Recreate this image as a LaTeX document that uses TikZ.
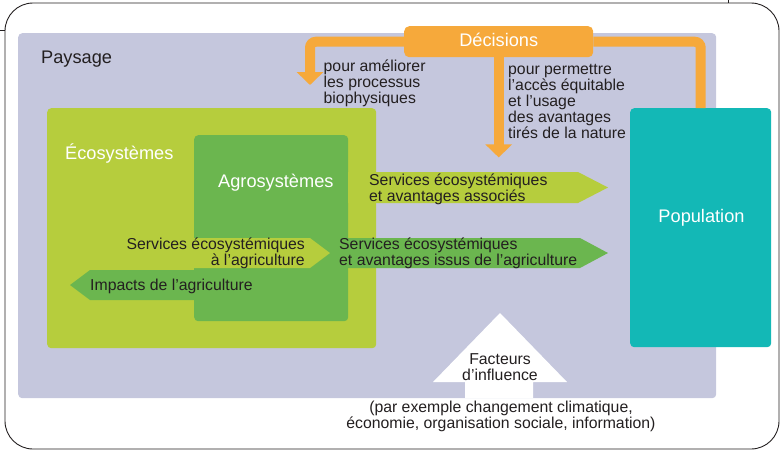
\documentclass[tikz,border=0pt]{standalone}
\usepackage{fontspec}
\setmainfont{Liberation Sans}
\usetikzlibrary{arrows.meta}
\definecolor{paysagecol}{RGB}{197,199,221}
\definecolor{ecocol}{RGB}{182,205,61}
\definecolor{agrocol}{RGB}{107,182,79}
\definecolor{popcol}{RGB}{19,184,182}
\definecolor{orangecol}{RGB}{246,169,59}
\definecolor{textcol}{RGB}{35,31,32}
\tikzset{
  zone/.style={anchor=north west, rounded corners=4pt, inner sep=0pt},
  titre/.style={font=\fontsize{18.2}{20}\selectfont, inner sep=0pt},
  corps/.style={text=textcol, font=\fontsize{15.8}{16}\selectfont, inner sep=0pt},
  decision/.style={orangecol, line width=10pt, rounded corners=6pt},
  pointe/.style={-{Triangle[width=26pt,length=13pt]}},
}
\begin{document}
\begin{tikzpicture}[x=1pt,y=-1pt]
  \useasboundingbox (0,0) rectangle (780,451);
  % cadre
  \draw[textcol, line width=0.9pt, rounded corners=28pt] (5,3) rectangle (779,449);
  \draw[textcol, line width=0.9pt] (728,0) -- (728,3);
  \draw[textcol, line width=0.9pt] (0,30) -- (5,30);
  % zones
  \node[zone, fill=paysagecol, minimum width=698pt, minimum height=365pt] (paysage) at (18,33) {};
  \node[zone, fill=ecocol, minimum width=329pt, minimum height=240pt] (eco) at (47,108) {};
  \node[zone, fill=agrocol, minimum width=154pt, minimum height=186pt] (agro) at (194,135) {};
  \node[zone, fill=popcol, minimum width=141pt, minimum height=239pt] (pop) at (630,108) {};
  % fleches de services
  \fill[ecocol] (348,172) -- (578,172) -- (608,187.5) -- (578,203) -- (348,203) -- cycle;
  \fill[ecocol] (120,238) -- (310,238) -- (330,253) -- (310,268) -- (120,268) -- cycle;
  \fill[agrocol] (335,238) -- (580,238) -- (608,253) -- (580,268) -- (335,268) -- cycle;
  \fill[agrocol] (250,270) -- (90,270) -- (70,285) -- (90,300) -- (250,300) -- cycle;
  \fill[white] (500,313) -- (567,382) -- (533,382) -- (533,398) -- (465,398) -- (465,382) -- (433,382) -- cycle;
  % decisions
  \node[fill=orangecol, rounded corners=5pt, minimum width=189pt, minimum height=31pt, inner sep=0pt,
        anchor=north west] (decisions) at (404,26) {};
  \node[titre, text=white, anchor=base] at ([yshift=-4.5pt]decisions.center) {Décisions};
  \coordinate (ciblebio) at (310,85);
  \coordinate (cibleacces) at ([yshift=-100pt]decisions.south);
  \draw[decision, pointe] (decisions.west) -| (ciblebio);
  \draw[decision, pointe] (decisions.south) -- (cibleacces);
  \draw[decision] (decisions.east) -| (pop.north);
  % titres
  \node[titre, text=textcol, anchor=base west] at (41,63) {Paysage};
  \node[titre, text=white, anchor=base west] at (65,159) {Écosystèmes};
  \node[titre, text=white, anchor=base west] at (218,187.5) {Agrosystèmes};
  \node[titre, text=white, anchor=base] at (701.5,222) {Population};
  % textes (base = derniere ligne)
  \node[corps, align=left, anchor=base west] at (323.5,103.5) {pour améliorer\\les processus\\biophysiques};
  \node[corps, align=left, anchor=base west] at (508,138) {pour permettre\\l’accès équitable\\et l’usage\\des avantages\\tirés de la nature};
  \node[corps, align=left, anchor=base west] at (369,201) {Services écosystémiques\\et avantages associés};
  \node[corps, align=right, anchor=base east] at (305,265) {Services écosystémiques\\à l’agriculture};
  \node[corps, align=left, anchor=base west] at (339,265) {Services écosystémiques\\et avantages issus de l’agriculture};
  \node[corps, anchor=base west] at (90,290) {Impacts de l’agriculture};
  \node[corps, align=center, anchor=base] at (500,380) {Facteurs\\d’influence};
  \node[corps, align=center, anchor=base] at (501,428.5) {(par exemple changement climatique,\\économie, organisation sociale, information)};
\end{tikzpicture}
\end{document}
